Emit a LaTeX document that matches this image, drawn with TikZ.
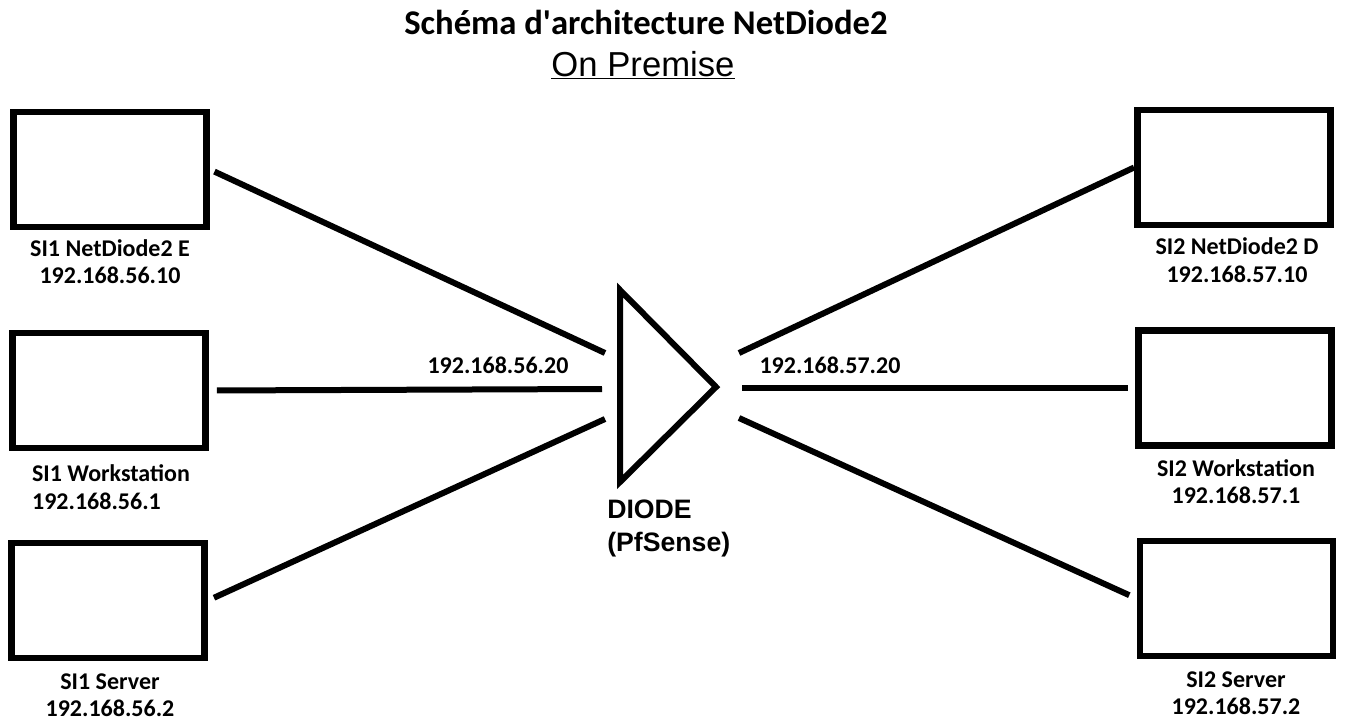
\documentclass[tikz,border=0pt]{standalone}
\usepackage{fontspec}
\setmainfont{Carlito}
\newfontfamily\arialfont{Liberation Sans}
\usepackage{tikz}
\usetikzlibrary{shapes.geometric, arrows}
\tikzstyle{host} = [rectangle, draw=black, line width=4.9pt, minimum width=145pt, minimum height=86pt, inner sep=0pt]
\tikzstyle{hostlabel} = [align=center, font=\bfseries\fontsize{18}{20.5}\selectfont, inner sep=0pt]
\tikzstyle{iplabel} = [font=\bfseries\fontsize{18}{20.5}\selectfont, inner sep=0pt]
\tikzstyle{wire} = [line width=4.5pt]

\begin{document}
\begin{tikzpicture}[x=0.75pt, y=-0.75pt]
\useasboundingbox (0,0) rectangle (1346,721);

\node (title) [font=\bfseries\fontsize{26}{30}\selectfont] at (646,22) {Schéma d\textquotesingle architecture NetDiode2};
\node (onprem) [font=\arialfont\fontsize{26}{30}\selectfont] at (643,65) {\underline{On Premise}};

\node (si1nd) [host] at (110,169.5) {};
\node (si1ws) [host] at (109,390.5) {};
\node (si1srv) [host] at (108,600.5) {};
\node (si2nd) [host] at (1234,167.5) {};
\node (si2ws) [host] at (1235,388) {};
\node (si2srv) [host] at (1236.5,598.5) {};

\node (si1ndlbl) [hostlabel] at (110,261.5) {SI1 NetDiode2 E\\192.168.56.10};
\node (si1wslbl) [hostlabel, align=left] at (111,487) {SI1 Workstation\\192.168.56.1};
\node (si1srvlbl) [hostlabel] at (110,695.5) {SI1 Server\\192.168.56.2};
\node (si2ndlbl) [hostlabel] at (1237,260) {SI2 NetDiode2 D\\192.168.57.10};
\node (si2wslbl) [hostlabel] at (1236,481.5) {SI2 Workstation\\192.168.57.1};
\node (si2srvlbl) [hostlabel] at (1236,693) {SI2 Server\\192.168.57.2};

\draw [wire] (620,290) -- (716,387) -- (620,482) -- cycle;
\node (diodelbl) [anchor=west, align=left, inner sep=0pt, font=\arialfont\bfseries\fontsize{20}{24.75}\selectfont] at (607,528.5) {DIODE\\(PfSense)};

\node (ipin) [iplabel] at (498,365) {192.168.56.20};
\node (ipout) [iplabel] at (830,365) {192.168.57.20};

\coordinate (in1) at (605,353);
\coordinate (in2) at (602,389);
\coordinate (in3) at (605,419);
\coordinate (out1) at (739,353);
\coordinate (out2) at (742,388);
\coordinate (out3) at (739,418);

\draw [wire, shorten <=3.75pt] (si1nd.east) -- (in1);
\draw [wire, shorten <=6pt] (si1ws.east) -- (in2);
\draw [wire, shorten <=5pt] (si1srv.east) -- (in3);
\draw [wire] (out1) -- (si2nd.west);
\draw [wire, shorten >=5pt] (out2) -- (si2ws.west);
\draw [wire, shorten >=6pt] (out3) -- (si2srv.west);

\end{tikzpicture}
\end{document}
